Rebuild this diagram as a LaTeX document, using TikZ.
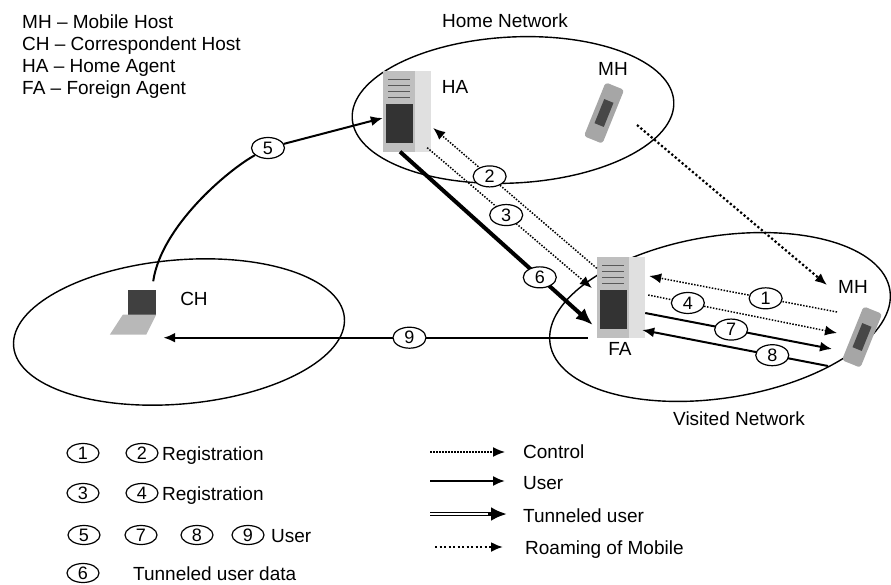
\documentclass[tikz,border=0pt]{standalone}
\usepackage{fontspec}
\setmainfont{Liberation Sans}
\usetikzlibrary{arrows.meta,shapes.geometric}

\tikzset{
    txt/.style={inner sep=0pt, font=\fontsize{19}{22}\selectfont},
    net/.style={line width=1.4pt},
    num/.style={ellipse, draw, solid, fill=white, line width=1.2pt, minimum width=33pt, minimum height=21pt,
        inner sep=0pt, font=\fontsize{18}{18}\selectfont},
    keynum/.style={num, minimum width=32pt, minimum height=19pt, font=\fontsize{18}{18}\selectfont},
    ctrl/.style={line width=1.5pt, dash pattern=on 1.5pt off 1.5pt},
    user/.style={line width=2pt},
    tunnel/.style={line width=4pt},
    roam/.style={line width=2.2pt, dash pattern=on 2.2pt off 2.3pt},
    server/.style={rectangle, minimum width=48pt, minimum height=81pt, inner sep=0pt, fill=black!25,
        path picture={
            \fill[black!12] ([xshift=-16pt]path picture bounding box.north east) rectangle (path picture bounding box.south east);
            \fill[black!80] ([xshift=3pt,yshift=-33pt]path picture bounding box.north west) rectangle ([xshift=30pt,yshift=9pt]path picture bounding box.south west);
            \foreach \d in {9,15,21,27}
                \draw[black!65, line width=1.2pt] ([xshift=5pt,yshift=-\d pt]path picture bounding box.north west) -- ++(22pt,0pt);
        }},
    phone/.style={rectangle, rounded corners=3pt, minimum width=20pt, minimum height=58pt, inner sep=0pt,
        fill=black!35, rotate=-22},
    keys/.style={rectangle, minimum width=10pt, minimum height=26pt, inner sep=0pt, fill=black!72, rotate=-22},
    screen/.style={rectangle, minimum width=28pt, minimum height=25pt, inner sep=0pt, fill=black!75},
}

\begin{document}
\begin{tikzpicture}[x=1pt, y=-1pt, >={Latex[length=12pt,width=10pt]}]
    \useasboundingbox (0,0) rectangle (891,584);

    % ==== ABBREVIATIONS ====
    \foreach \txt [count=\i] in {MH -- Mobile Host, CH -- Correspondent Host, HA -- Home Agent, FA -- Foreign Agent}{
        \node[txt, anchor=base west] (abbr\i) at (22,6+22*\i) {\txt};
    }

    % ==== NETWORKS ====
    \draw[net, rotate around={3:(513,110)}] (513,110) ellipse [x radius=161pt, y radius=73pt];
    \draw[net, rotate around={5:(179,332)}] (179,332) ellipse [x radius=166pt, y radius=72pt];
    \draw[net, rotate around={9:(720,317)}] (720,317) ellipse [x radius=172pt, y radius=81pt];
    \node[txt, anchor=base] (homenet) at (505,27) {Home Network};
    \node[txt, anchor=base] (visnet) at (739,425) {Visited Network};

    % ==== HOSTS AND AGENTS ====
    \node[server] (ha) at (407,111) {};
    \node[txt, anchor=base] (haname) at (455,93) {HA};
    \node[server] (fa) at (621,297) {};
    \node[txt, anchor=base] (faname) at (620,355) {FA};

    \node[phone] (mhh) at (604,113) {};
    \node[keys] (mhhkeys) at (mhh.center) {};
    \node[txt, anchor=base] (mhhname) at (613,75) {MH};
    \node[phone] (mhv) at (862,337) {};
    \node[keys] (mhvkeys) at (mhv.center) {};
    \node[txt, anchor=base] (mhvname) at (853,293) {MH};

    \node[screen] (ch) at (142,302) {};
    \fill[black!28] ([xshift=-5pt]ch.south west) -- (ch.south east) -- ([xshift=-10pt,yshift=-20pt]ch.south east)
        -- ([xshift=-18pt,yshift=-20pt]ch.south west) -- cycle;
    \node[txt, anchor=base] (chname) at (194,305) {CH};

    % ==== MESSAGES ====
    \node[num] (c5) at (268,148) {5};
    \draw[user] ([xshift=-3pt,yshift=8pt]ch.north east) .. controls +(8,-55) and +(-40,22) .. (c5);
    \draw[user,->] (c5) -- ([yshift=-7pt]ha.west);

    \draw[ctrl,->] ([yshift=-12pt]fa.north west) -- node[num,pos=.655] (c2) {2} ([xshift=2pt,yshift=-17pt]ha.east);
    \draw[ctrl,->] ([xshift=-4pt,yshift=4pt]ha.south east) -- node[num,pos=.48] (c3) {3} ([xshift=-5pt,yshift=9pt]fa.west);
    \draw[tunnel,-{Latex[length=17pt,width=14pt]}] ([xshift=-7pt]ha.south)
        -- node[num,pos=.725] (c6) {6} ([xshift=-4pt,yshift=-28pt]fa.west);
    \draw[user,->,line width=2.4pt] ([xshift=-9pt]fa.south west) -- node[num,pos=.42] (c9) {9} ([xshift=7pt,yshift=-23pt]ch.south east);

    \draw[ctrl,->] ([xshift=-25pt,yshift=25pt]mhv.center) -- node[num,pos=.38] (c1) {1} ([xshift=4pt,yshift=21pt]fa.east);
    \draw[ctrl,->] ([xshift=3pt,yshift=2pt]fa.east) -- node[num,pos=.21] (c4) {4} ([xshift=-25pt,yshift=4pt]mhv.center);
    \draw[user,->] ([yshift=-16pt]fa.east) -- node[num,pos=.46] (c7) {7} ([xshift=-30pt,yshift=-12pt]mhv.center);
    \draw[user,->] ([xshift=-34pt,yshift=-29pt]mhv.center) -- node[num,pos=.30] (c8) {8} ([xshift=-3pt,yshift=-33pt]fa.east);

    % roaming of the mobile host
    \draw[roam,->] ([xshift=33pt,yshift=-12pt]mhh.center) -- ([xshift=-35pt,yshift=52pt]mhv.center);

    % ==== KEY: MESSAGES ====
    \node[keynum] (k1) at (83,453) {1};
    \node[keynum] (k2) at (142,453) {2};
    \node[txt, anchor=base west] (kreg1) at (162,460) {Registration};
    \node[keynum] (k3) at (83,493) {3};
    \node[keynum] (k4) at (142,493) {4};
    \node[txt, anchor=base west] (kreg2) at (162,500) {Registration};
    \node[keynum] (k5) at (84,535) {5};
    \node[keynum] (k7) at (141,535) {7};
    \node[keynum] (k8) at (197,535) {8};
    \node[keynum] (k9) at (248,535) {9};
    \node[txt, anchor=base west] (kuser) at (271,542) {User};
    \node[keynum] (k6) at (83,573) {6};
    \node[txt, anchor=base west] (ktun) at (133,580) {Tunneled user data};

    % ==== KEY: LINES ====
    \coordinate (ctrlA) at (430,452);
    \coordinate (ctrlB) at (505,452);
    \coordinate (userA) at (430,481);
    \coordinate (userB) at (505,481);
    \coordinate (tunA) at (430,514);
    \coordinate (tunM) at (488,514);
    \coordinate (tunB) at (507,514);
    \coordinate (roamA) at (435,547);
    \coordinate (roamB) at (503,547);

    \draw[ctrl,->] (ctrlA) -- (ctrlB);
    \draw[user,->] (userA) -- (userB);
    \draw[line width=1pt, double distance=2.2pt] (tunA) -- (tunM);
    \draw[line width=4.2pt, -{Latex[length=16pt,width=14pt]}] (tunM) -- (tunB);
    \draw[roam,->] (roamA) -- (roamB);

    \node[txt, anchor=base west] (lctrl) at (523,458) {Control};
    \node[txt, anchor=base west] (luser) at (523,489) {User};
    \node[txt, anchor=base west] (ltun) at (523,522) {Tunneled user};
    \node[txt, anchor=base west] (lroam) at (525,554) {Roaming of Mobile};
\end{tikzpicture}
\end{document}
